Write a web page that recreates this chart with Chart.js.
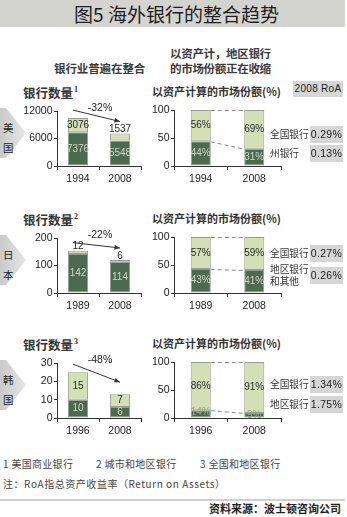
<!DOCTYPE html>
<html>
<head>
<meta charset="utf-8">
<script src="https://cdn.jsdelivr.net/npm/chart.js@4.4.0/dist/chart.umd.min.js"></script>
<style>
body { margin: 0; background: #fff; }
#page { position: relative; width: 347px; height: 517px; overflow: hidden; font-family: "Noto Sans CJK SC", sans-serif; color: #222; }
.abs { position: absolute; white-space: nowrap; }
canvas { position: absolute; }
</style>
</head>
<body>
<div id="page"></div>
<script>
/* datos */
const countries = ['美国', '日本', '韩国'];
const yearLabels = [['1994', '2008'], ['1989', '2008'], ['1996', '2008']];
const bankDark = [[7376, 5548], [142, 114], [10, 6]];
const bankLight = [[3076, 1537], [12, 6], [15, 7]];
const bankMax = [12000, 200, 30];
const bankStep = [6000, 100, 10];
const bankChange = ['-32%', '-22%', '-48%'];
const shareRegional = [[44, 31], [43, 41], [14, 9]];
const shareNational = [[56, 69], [57, 59], [86, 91]];
const roaNames = [['全国银行', '州银行'], ['全国银行', '地区银行\n和其他'], ['全国银行', '地区银行']];
const roaValues = [['0.29%', '0.13%'], ['0.27%', '0.26%'], ['1.34%', '1.75%']];
const footnotes = ['1 美国商业银行', '2 城市和地区银行', '3 全国和地区银行'];

/* layout */
const sectionTop = [0, 127, 252];
const roaRowY = [[134, 153], [253, 275], [384, 404]];
const footX = [3, 96, 200];
const darkGreen = '#4c6b4e';
const lightGreen = '#d4dfb6';
const numFont = '"Liberation Sans", Arial, sans-serif';

const page = document.getElementById('page');

const put = (html, left, centerY, size, extra) => {
    const d = document.createElement('div');
    d.className = 'abs';
    d.innerHTML = html;
    d.style.left = left + 'px';
    d.style.top = (centerY - size * 0.65) + 'px';
    d.style.fontSize = size + 'px';
    d.style.lineHeight = (size * 1.3) + 'px';
    if (extra) d.style.cssText += extra;
    page.appendChild(d);
    return d;
};

/* titulo */
const title = document.createElement('div');
title.className = 'abs';
title.style.cssText = 'left:0;top:0;width:345px;height:27px;background:#d3d3cf;text-align:center;font-size:19px;line-height:27px;color:#1e1e1e;padding-left:8px;box-sizing:border-box;';
title.textContent = '图5 海外银行的整合趋势';
page.appendChild(title);

put('以资产计，地区银行', 170, 53, 11.5, 'font-weight:700;color:#3a3a3a;letter-spacing:-0.3px;');
put('的市场份额正在收缩', 170, 68, 11.5, 'font-weight:700;color:#3a3a3a;letter-spacing:-0.3px;');
put('银行业普遍在整合', 54, 68, 11.5, 'font-weight:700;color:#3a3a3a;letter-spacing:-0.1px;');

/* plugins */
const barLabels = {
    id: 'barLabels',
    afterDatasetsDraw(chart, args, opts) {
        const ctx = chart.ctx;
        ctx.save();
        ctx.font = '10px ' + numFont;
        ctx.textAlign = 'center';
        ctx.textBaseline = 'middle';
        chart.data.datasets.forEach((ds, di) => {
            chart.getDatasetMeta(di).data.forEach((bar, j) => {
                const h = bar.base - bar.y;
                let y = (bar.y + bar.base) / 2;
                let color = di === 0 ? '#cfd6c4' : '#2a2a2a';
                if (di === 1 && h < 9) y = bar.y - 4;
                if (di === 0 && h < 10) { y = bar.y + 2; color = '#93a583'; }
                ctx.fillStyle = color;
                ctx.fillText(ds.data[j] + (opts.suffix || ''), bar.x, y);
            });
        });
        ctx.restore();
    }
};

const dropArrow = {
    id: 'dropArrow',
    afterDatasetsDraw(chart, args, opts) {
        const bars = chart.getDatasetMeta(1).data;
        const x1 = bars[0].x - 5, y1 = bars[0].y - 8;
        const x2 = bars[1].x, y2 = bars[1].y - 12;
        const ctx = chart.ctx;
        ctx.save();
        ctx.strokeStyle = '#333';
        ctx.fillStyle = '#333';
        ctx.lineWidth = 1;
        ctx.beginPath();
        ctx.moveTo(x1, y1);
        ctx.lineTo(x2, y2);
        ctx.stroke();
        const a = Math.atan2(y2 - y1, x2 - x1);
        ctx.beginPath();
        ctx.moveTo(x2, y2);
        ctx.lineTo(x2 - 6 * Math.cos(a - 0.4), y2 - 6 * Math.sin(a - 0.4));
        ctx.lineTo(x2 - 6 * Math.cos(a + 0.4), y2 - 6 * Math.sin(a + 0.4));
        ctx.closePath();
        ctx.fill();
        ctx.font = '10.5px ' + numFont;
        ctx.textAlign = 'center';
        ctx.textBaseline = 'middle';
        ctx.fillStyle = '#222';
        ctx.fillText(opts.text, (bars[0].x + bars[1].x) / 2 + 1, chart.chartArea.top - 3);
        ctx.restore();
    }
};

const shareLinks = {
    id: 'shareLinks',
    afterDatasetsDraw(chart) {
        const ctx = chart.ctx;
        ctx.save();
        ctx.strokeStyle = '#8a8a8a';
        ctx.lineWidth = 1;
        ctx.setLineDash([4, 3]);
        [0, 1].forEach(di => {
            const bars = chart.getDatasetMeta(di).data;
            ctx.beginPath();
            ctx.moveTo(bars[0].x + bars[0].width / 2, bars[0].y + 0.5);
            ctx.lineTo(bars[1].x - bars[1].width / 2, bars[1].y + 0.5);
            ctx.stroke();
        });
        ctx.restore();
    }
};

const makeConfig = (labels, dark, light, max, step, yWidth, barPct, padTop, plugins, pluginOpts) => ({
    type: 'bar',
    data: {
        labels: labels,
        datasets: [
            { data: dark, backgroundColor: darkGreen, borderColor: '#9a9a9a', borderWidth: 1, borderSkipped: false, barPercentage: barPct, categoryPercentage: 1 },
            { data: light, backgroundColor: lightGreen, borderColor: '#9a9a9a', borderWidth: 1, borderSkipped: false, barPercentage: barPct, categoryPercentage: 1 }
        ]
    },
    options: {
        responsive: false,
        animation: false,
        devicePixelRatio: 1,
        layout: { padding: { top: padTop, right: 4, left: 0, bottom: 0 } },
        plugins: Object.assign({ legend: { display: false }, tooltip: { enabled: false } }, pluginOpts),
        scales: {
            x: {
                stacked: true,
                grid: { offset: true, drawOnChartArea: false, tickLength: 4, color: '#333' },
                border: { color: '#333' },
                ticks: { font: { family: numFont, size: 10.5 }, color: '#222', padding: 3 },
                afterFit(scale) { scale.height = 24; }
            },
            y: {
                stacked: true,
                min: 0,
                max: max,
                grid: { drawOnChartArea: false, tickLength: 3, color: '#333' },
                border: { color: '#333' },
                ticks: { stepSize: step, font: { family: numFont, size: 10.5 }, color: '#222', padding: 1.5, callback: v => v },
                afterFit(scale) { scale.width = yWidth; }
            }
        }
    },
    plugins: plugins
});

countries.forEach((name, i) => {
    const o = sectionTop[i];

    /* etiqueta del pais */
    const chev = document.createElement('div');
    chev.className = 'abs';
    chev.style.cssText = `left:0;top:${108 + o}px;width:26px;height:50px;background:linear-gradient(to right,#c9c9c9,#e6e6e6);clip-path:polygon(0 0,6px 0,26px 50%,6px 100%,0 100%);`;
    page.appendChild(chev);
    put(name[0], 3, 128 + o, 10.5, 'color:#222;');
    put(name[1], 3, 148 + o, 10.5, 'color:#222;');

    put('银行数量<span style="font-size:8px;vertical-align:6px;margin-left:1px;font-family:\'Liberation Serif\',serif">' + (i + 1) + '</span>', 23, 90 + o, 12.5, 'font-weight:700;color:#333;');
    put('以资产计算的市场份额(%)', 152, 91 + o, 11, 'font-weight:700;color:#333;');

    /* graficas */
    const c1 = document.createElement('canvas');
    c1.width = 130; c1.height = 90;
    c1.style.left = '15px'; c1.style.top = (100 + o) + 'px';
    page.appendChild(c1);
    new Chart(c1, makeConfig(yearLabels[i], bankDark[i], bankLight[i], bankMax[i], bankStep[i], 42, 0.48, 11,
        [barLabels, dropArrow], { barLabels: {}, dropArrow: { text: bankChange[i] } }));

    const c2 = document.createElement('canvas');
    c2.width = 140; c2.height = 90;
    c2.style.left = '145px'; c2.style.top = (100 + o) + 'px';
    page.appendChild(c2);
    new Chart(c2, makeConfig(yearLabels[i], shareRegional[i], shareNational[i], 100, 50, 29, 0.375, 10,
        [shareLinks, barLabels], { barLabels: { suffix: '%' } }));

    /* RoA */
    roaNames[i].forEach((n, r) => {
        const cy = roaRowY[i][r];
        const lines = n.split('\n');
        if (lines.length === 1) {
            put(n, 270, cy, 9.7, 'color:#333;');
        } else {
            put(lines[0], 270, cy - 6, 9.7, 'color:#333;');
            put(lines[1], 270, cy + 6, 9.7, 'color:#333;');
        }
        const box = document.createElement('div');
        box.className = 'abs';
        box.style.cssText = `left:310px;top:${cy - 8.5}px;width:33px;height:17px;background:#d6d6d6;text-align:center;font:10.5px/17px ${numFont};color:#222;letter-spacing:0.3px;`;
        box.textContent = roaValues[i][r];
        page.appendChild(box);
    });
});

const roaHead = document.createElement('div');
roaHead.className = 'abs';
roaHead.style.cssText = `left:293px;top:81px;width:50px;height:16px;background:#d6d6d6;text-align:center;font:10px/16px ${numFont};color:#222;letter-spacing:0.3px;`;
roaHead.textContent = '2008 RoA';
page.appendChild(roaHead);

/* notas */
footnotes.forEach((f, k) => put(f, footX[k], 463, 10, 'color:#444;letter-spacing:0.3px;'));
put('注：RoA指总资产收益率（Return on Assets）', 3, 483, 10, 'color:#444;letter-spacing:0.55px;');
const rule = document.createElement('div');
rule.className = 'abs';
rule.style.cssText = 'left:0;top:499px;width:345px;height:2px;background:#d0d0d0;';
page.appendChild(rule);
put('资料来源：波士顿咨询公司', 209, 508, 11, 'font-weight:700;color:#222;');
</script>
</body>
</html>
